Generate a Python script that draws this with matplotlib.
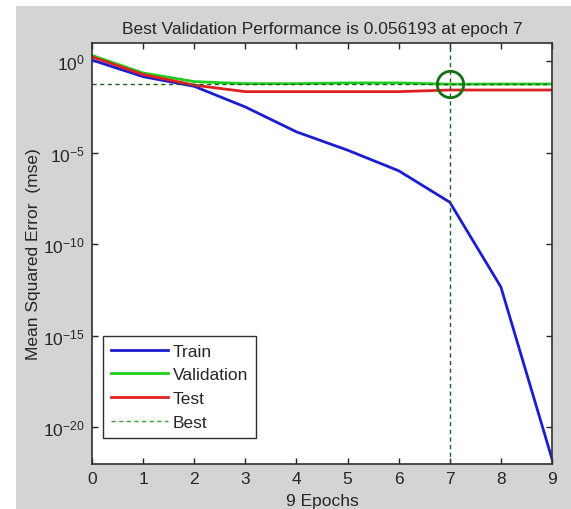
import matplotlib
matplotlib.use('Agg')
import matplotlib.pyplot as plt
from matplotlib.patches import Rectangle

# performance per epoch
epochs = [0, 1, 2, 3, 4, 5, 6, 7, 8, 9]
train = [1.17, 0.145, 0.043, 3.2e-3, 1.4e-4, 1.4e-5, 1.05e-6, 2.0e-8, 4.7e-13, 1.9e-22]
validation = [2.1, 0.23, 0.078, 0.060, 0.060, 0.066, 0.066, 0.056193, 0.0575, 0.0575]
test = [1.75, 0.19, 0.050, 0.022, 0.022, 0.022, 0.022, 0.027, 0.027, 0.027]
best_epoch = 7
best_perf = 0.056193
ytick_vals = [1e-20, 1e-15, 1e-10, 1e-5, 1e0]

plt.rcParams['font.family'] = ['Liberation Sans Narrow', 'Liberation Sans', 'DejaVu Sans']
plt.rcParams['axes.unicode_minus'] = False
txt = '#262626'
fs = 12.5

fig = plt.figure(figsize=(5.71, 5.10), dpi=100, facecolor='white')
# grey window area, white strip at left/top like the screenshot
fig.patches.append(Rectangle((16/571, 0), 1, (510-7)/510, transform=fig.transFigure,
                             facecolor='#d4d4d4', edgecolor='none', zorder=-10))

ax = fig.add_axes([92/571, 45/510, 460/571, 421/510])
ax.set_facecolor('white')

ax.semilogy(epochs, train, color='#1c1cd0', lw=2, label='Train')
ax.semilogy(epochs, validation, color='#1ed01e', lw=2, label='Validation')
ax.semilogy(epochs, test, color='#e02020', lw=2, label='Test')
ax.axhline(best_perf, color='#1f5f1f', lw=1, ls=(0, (3, 2.5)), label='Best')
ax.axvline(best_epoch, color='#1f5f1f', lw=1, ls=(0, (3, 2.5)))
ax.plot([best_epoch], [best_perf], 'o', ms=19, mfc='none', mec='#137013', mew=2)

ax.set_xlim(0, 9)
ax.set_ylim(1e-22, 1e1)
ax.set_xticks(range(10))
ax.set_yticks(ytick_vals)
ax.minorticks_off()
ax.tick_params(direction='in', length=4, width=1, top=True, right=True,
               labelsize=fs, colors=txt, pad=5)
for s in ax.spines.values():
    s.set_color('#303030')
    s.set_linewidth(1.2)

ax.set_title('Best Validation Performance is 0.056193 at epoch 7', fontsize=fs, color=txt, pad=7)
ax.set_xlabel('9 Epochs', fontsize=fs, color=txt, labelpad=5)
ax.set_ylabel('Mean Squared Error  (mse)', fontsize=fs, color=txt, labelpad=2)

leg = ax.legend(loc='lower left', bbox_to_anchor=(0.024, 0.062), borderaxespad=0,
                fancybox=False, framealpha=1, edgecolor='#303030', fontsize=fs,
                handlelength=3.3, handletextpad=0.25, labelspacing=0.5, borderpad=0.45)
leg.get_frame().set_linewidth(1)
leg.get_lines()[3].set_color('#3a9a3a')
for t in leg.get_texts():
    t.set_color(txt)

fig.savefig('out.png', dpi=100, facecolor=fig.get_facecolor())
